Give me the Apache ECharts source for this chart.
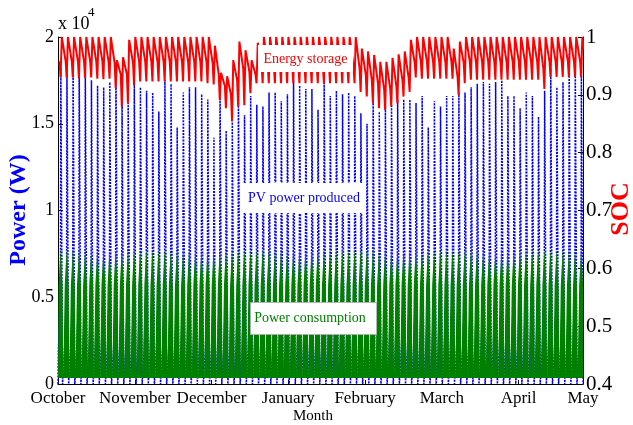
<!DOCTYPE html>
<html><head><meta charset="utf-8">
<script src="https://cdn.jsdelivr.net/npm/echarts@6/dist/echarts.min.js"></script>
<style>html,body{margin:0;padding:0;background:#fff}#c{width:633px;height:425px}</style>
</head><body><div id="c"></div>
<script>
// ---- data (power in units of 10^4 W) ----
const monthTicks = [0, 31, 62, 93, 124, 155, 186, 212];
const monthNames = ['October','November','December','January','February','March','April','May'];
const powerTicks = [0, 0.5, 1, 1.5, 2];
const socTicks = [0.4, 0.5, 0.6, 0.7, 0.8, 0.9, 1];

// PV power produced: daily peak of each spike
const pvPeak = [1.82,1.83,1.87,1.86,1.80,1.75,1.72,1.71,1.74,1.85,
                1.63,1.62,1.75,1.71,1.69,1.68,1.57,1.75,1.73,1.48,
                1.68,1.71,1.71,1.67,1.64,1.42,1.68,1.46,1.51,1.71,
                1.55,1.66,1.61,1.60,1.68,1.68,1.63,1.67,1.75,1.72,
                1.70,1.70,1.58,1.78,1.66,1.69,1.67,1.68,1.66,1.56,
                1.50,1.64,1.57,1.60,1.61,1.64,1.64,1.64,1.62,1.66,
                1.48,1.63,1.60,1.66,1.66,1.68,1.68,1.71,1.73,1.74,
                1.73,1.74,1.75,1.66,1.66,1.59,1.68,1.66,1.54,1.69,
                1.82,1.71,1.74,1.90,1.87,1.78];
// PV within a cycle: phase (fraction of cycle); night, early-morning and mid-morning levels
const pvPhase = [0.00, 0.07, 0.40, 0.46, 0.58, 0.74];
const pvNight = 0;
const pvMorning = 0.2;
const pvMidMorning = 0.55;

// Power consumption: daily load profile (phase in cycle, level)
const consPhase = [0.00, 0.06, 0.10, 0.40, 0.42, 0.72, 0.74, 0.84, 0.86];
const consLoad  = [0.035, 0.035, 0.57, 0.57, 0.78, 0.78, 0.57, 0.57, 0.035];

// Energy storage SOC per cycle: value after evening descent (mid), low before charging, high after charging
const socMid = [0.958,0.958,0.958,0.958,0.958,0.958,0.958,0.958,0.958,0.955,
                0.935,0.935,0.955,0.957,0.957,0.957,0.957,0.957,0.957,0.957,
                0.957,0.957,0.957,0.957,0.957,0.955,0.935,0.915,0.900,0.925,
                0.945,0.940,0.935,0.950,0.950,0.950,0.950,0.950,0.950,0.950,
                0.950,0.950,0.950,0.950,0.950,0.950,0.950,0.950,0.950,0.945,
                0.935,0.925,0.920,0.910,0.910,0.915,0.925,0.930,0.955,0.957,
                0.957,0.957,0.957,0.957,0.957,0.930,0.955,0.957,0.957,0.957,
                0.957,0.957,0.957,0.957,0.957,0.957,0.957,0.957,0.957,0.945,
                0.958,0.958,0.958,0.958,0.958,0.958,0.958];
const socLow = [0.930,0.929,0.930,0.928,0.929,0.930,0.928,0.927,0.928,0.912,
                0.880,0.885,0.917,0.923,0.923,0.923,0.923,0.923,0.923,0.923,
                0.923,0.923,0.923,0.923,0.920,0.918,0.891,0.877,0.854,0.880,
                0.882,0.903,0.920,0.920,0.920,0.920,0.920,0.920,0.920,0.920,
                0.920,0.920,0.920,0.920,0.920,0.920,0.920,0.920,0.920,0.905,
                0.897,0.886,0.877,0.874,0.880,0.885,0.897,0.905,0.930,0.928,
                0.928,0.928,0.928,0.928,0.928,0.900,0.920,0.926,0.926,0.926,
                0.926,0.926,0.926,0.926,0.926,0.926,0.926,0.926,0.926,0.910,
                0.931,0.931,0.931,0.931,0.931,0.931];
const socHigh = [1,1,1,1,1,1,1,1,1,0.960,
                 0.965,0.995,1,1,1,1,1,1,1,1,
                 1,1,1,1,1,0.985,0.938,0.932,0.960,0.992,
                 0.977,0.960,0.990,1,1,1,1,1,1,1,
                 1,1,1,1,1,1,1,1,1,0.980,
                 0.975,0.969,0.957,0.957,0.964,0.970,0.975,0.995,1,1,
                 1,1,1,1,0.980,0.992,1,1,1,1,
                 1,1,1,1,1,1,1,1,1,1,
                 1,1,1,1,1,1];
const socPhase = [0.25, 0.42, 0.62];

// ---- layout constant: width of one cycle in days along the month axis ----
const CYCLE = 2.473;

const pvData = [];
pvPeak.forEach((pk, k) => {
  const t = k * CYCLE;
  const lv = [pvNight, pvMorning, pvMidMorning, pk, pk, pvNight];
  pvPhase.forEach((p, j) => pvData.push([t + p * CYCLE, lv[j]]));
});
const consData = [];
pvPeak.forEach((_, k) => {
  const t = k * CYCLE;
  consPhase.forEach((p, j) => consData.push([t + p * CYCLE, consLoad[j]]));
});
const socData = [];
socMid.forEach((m, k) => {
  const t = k * CYCLE;
  socData.push([t + socPhase[0] * CYCLE, m]);
  if (k < socLow.length) {
    socData.push([t + socPhase[1] * CYCLE, socLow[k]]);
    socData.push([t + socPhase[2] * CYCLE, socHigh[k]]);
  }
});

const FONT = '"Liberation Serif", "Times New Roman", serif';
const chart = echarts.init(document.getElementById('c'), null, {renderer: 'canvas'});
chart.setOption({
  animation: false,
  backgroundColor: '#fff',
  grid: {left: 58, right: 50, top: 37, bottom: 41, containLabel: false, outerBoundsMode: 'none'},
  xAxis: {
    type: 'value', min: monthTicks[0], max: monthTicks[monthTicks.length - 1], interval: 31,
    axisLine: {show: true, lineStyle: {color: '#000', width: 1}},
    axisTick: {show: true, inside: true, length: 4, lineStyle: {color: '#000'}},
    splitLine: {show: false},
    axisLabel: {
      show: true, margin: 6, color: '#000', fontFamily: FONT, fontSize: 17,
      showMinLabel: true, showMaxLabel: true,
      formatter: v => { const i = monthTicks.indexOf(Math.round(v)); return i >= 0 ? monthNames[i] : ''; }
    }
  },
  yAxis: [{
    type: 'value', position: 'left', min: powerTicks[0], max: powerTicks[powerTicks.length - 1], interval: 0.5,
    axisLine: {show: true, lineStyle: {color: '#000', width: 1}},
    axisTick: {show: true, inside: true, length: 5, lineStyle: {color: '#000'}},
    splitLine: {show: false},
    axisLabel: {margin: 4, color: '#000', fontFamily: FONT, fontSize: 18}
  }, {
    type: 'value', position: 'right', min: socTicks[0], max: socTicks[socTicks.length - 1], interval: 0.1,
    axisLine: {show: true, lineStyle: {color: '#000', width: 1}},
    axisTick: {show: true, inside: true, length: 5, lineStyle: {color: '#000'}},
    splitLine: {show: false},
    axisLabel: {margin: 3, color: '#000', fontFamily: FONT, fontSize: 21,
      formatter: v => String(Math.round(v * 10) / 10)}
  }],
  series: [{
    name: 'PV power produced', type: 'line', data: pvData, yAxisIndex: 0,
    symbol: 'none', showSymbol: false, sampling: null, z: 2,
    lineStyle: {color: '#0000ff', width: 1.5, type: [2, 1.2]}
  }, {
    name: 'Power consumption', type: 'line', data: consData, yAxisIndex: 0,
    symbol: 'none', showSymbol: false, z: 3,
    lineStyle: {color: '#008000', width: 0},
    areaStyle: {color: '#008000', opacity: 1, origin: 0.035}
  }, {
    name: 'Energy storage', type: 'line', data: socData, yAxisIndex: 1,
    symbol: 'none', showSymbol: false, z: 4,
    lineStyle: {color: '#ff0000', width: 2}
  }],
  graphic: [
    {type: 'text', x: 58, y: 24, z: 100, style: {text: 'x 10', font: '18px ' + FONT, fill: '#000', textAlign: 'left', textVerticalAlign: 'middle'}},
    {type: 'text', x: 88, y: 13, z: 100, style: {text: '4', font: '13px ' + FONT, fill: '#000', textAlign: 'left', textVerticalAlign: 'middle'}},
    {type: 'text', x: 19, y: 210, rotation: Math.PI / 2, z: 100, style: {text: 'Power (W)', font: 'bold 24px ' + FONT, fill: '#0000ff', textAlign: 'center', textVerticalAlign: 'middle'}},
    {type: 'text', x: 621, y: 209, rotation: Math.PI / 2, z: 100, style: {text: 'SOC', font: 'bold 26px ' + FONT, fill: '#ff0000', textAlign: 'center', textVerticalAlign: 'middle'}},
    {type: 'text', x: 313, y: 416, z: 100, style: {text: 'Month', font: '15px ' + FONT, fill: '#000', textAlign: 'center', textVerticalAlign: 'middle'}},
    {type: 'rect', z: 90, shape: {x: 258, y: 45, width: 95, height: 27}, style: {fill: '#fff'}},
    {type: 'text', x: 305.5, y: 59, z: 100, style: {text: 'Energy storage', font: '14px ' + FONT, fill: '#ff0000', textAlign: 'center', textVerticalAlign: 'middle'}},
    {type: 'rect', z: 90, shape: {x: 243, y: 183, width: 123, height: 30}, style: {fill: '#fff'}},
    {type: 'text', x: 304, y: 198, z: 100, style: {text: 'PV power produced', font: '14px ' + FONT, fill: '#0000ff', textAlign: 'center', textVerticalAlign: 'middle'}},
    {type: 'rect', z: 90, shape: {x: 250.5, y: 302.5, width: 126, height: 32}, style: {fill: '#fff', stroke: '#b0b0b0', lineWidth: 0.8}},
    {type: 'text', x: 310, y: 318, z: 100, style: {text: 'Power consumption', font: '14px ' + FONT, fill: '#008000', textAlign: 'center', textVerticalAlign: 'middle'}}
  ]
});
</script>
</body></html>
